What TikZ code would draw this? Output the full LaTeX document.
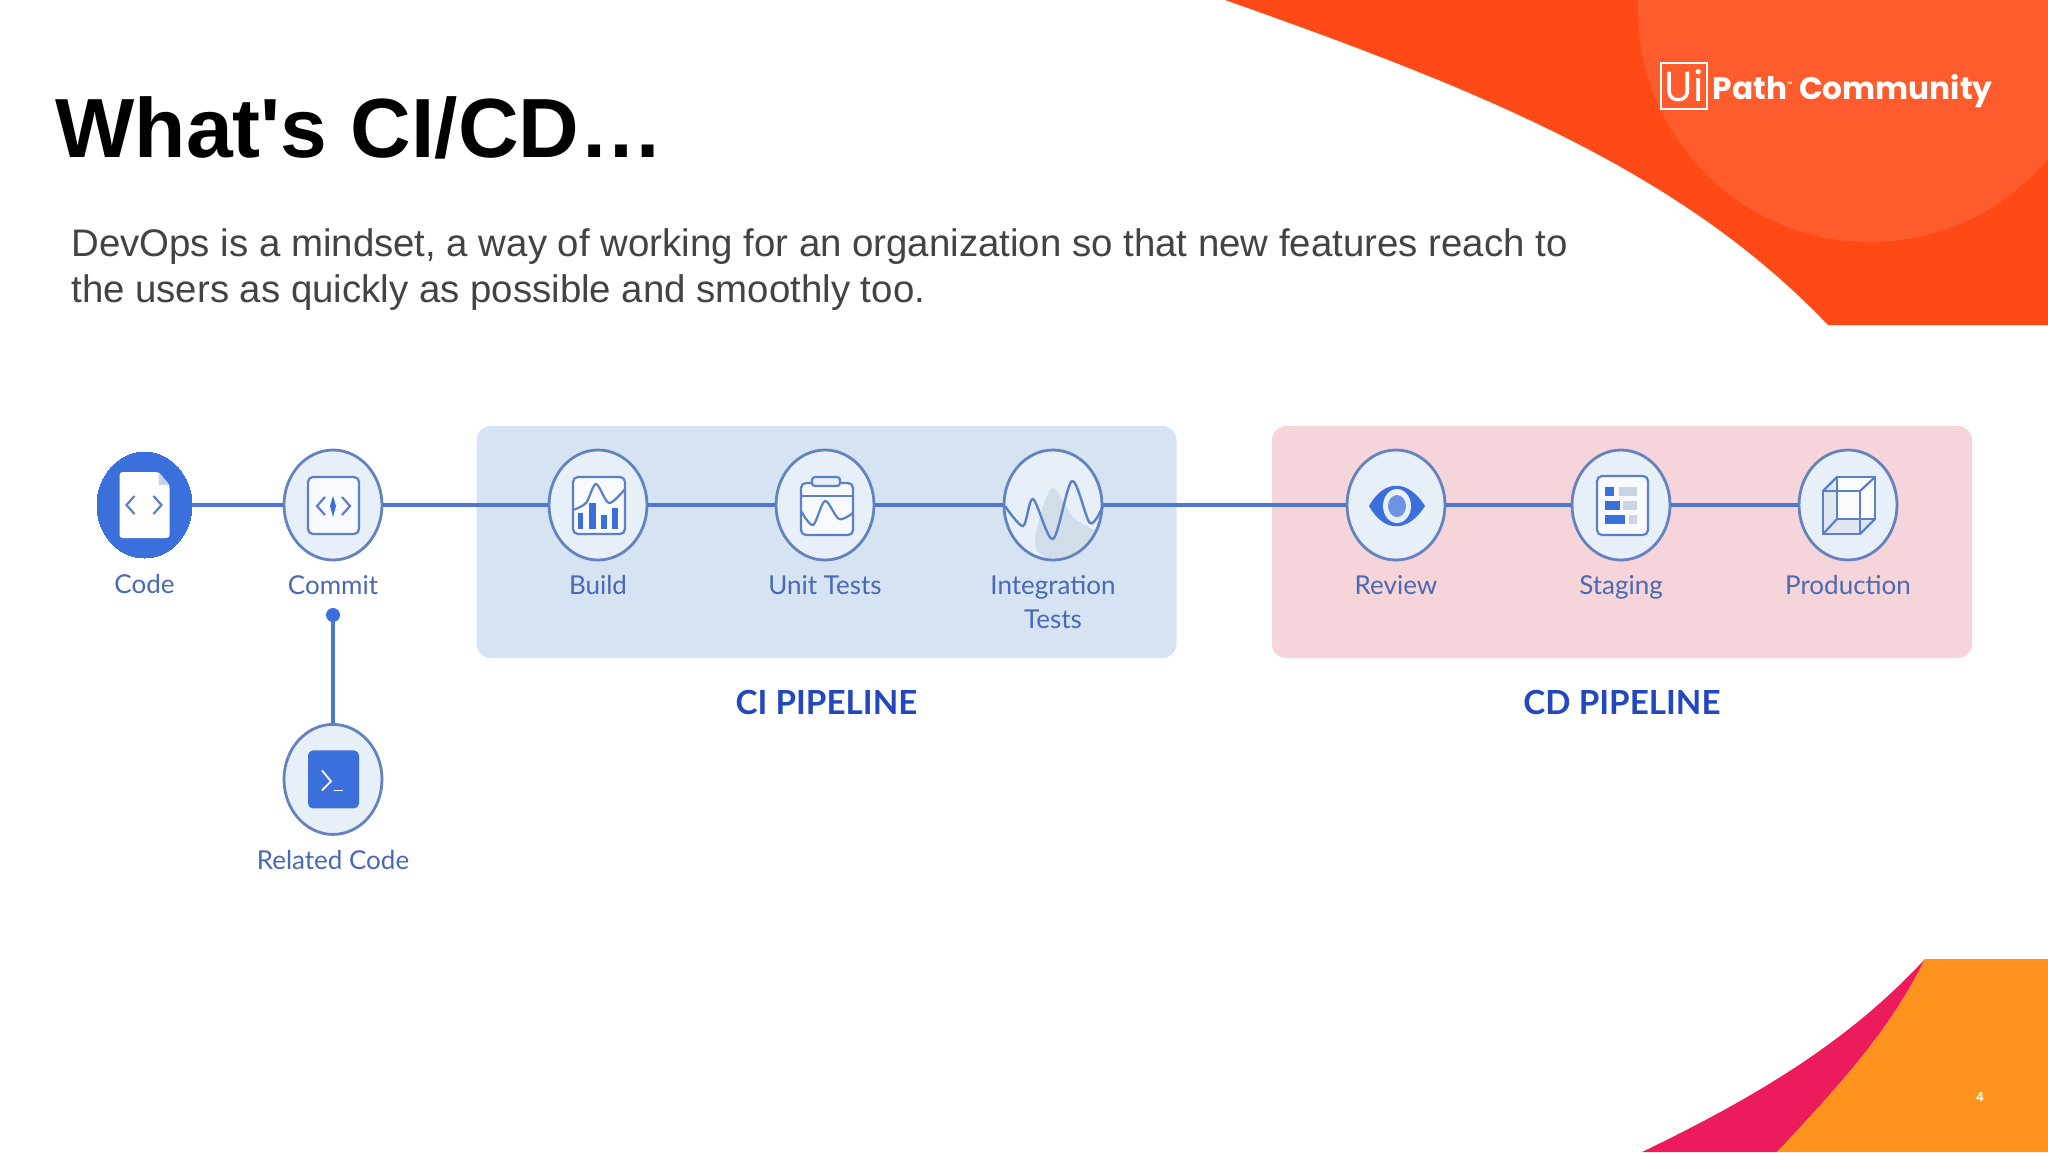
\documentclass[tikz,border=0pt]{standalone}
\usepackage{fontspec}
\setmainfont{Liberation Sans}
\newfontfamily\stepfont{Lato}
\newfontfamily\logofont{Poppins}
\usepackage{xcolor}
\usepackage{tikz}
\usetikzlibrary{calc,positioning,shapes.geometric}
\definecolor{flame}{HTML}{FF4A17}
\definecolor{flamelight}{HTML}{FF5C2E}
\definecolor{rosered}{HTML}{EC1C5C}
\definecolor{amberish}{HTML}{FF931E}
\definecolor{bodygray}{HTML}{434343}
\definecolor{cifill}{HTML}{D5E3F3}
\definecolor{cdfill}{HTML}{F6D5DA}
\definecolor{wireblue}{HTML}{4C78D4}
\definecolor{ringblue}{HTML}{6482BE}
\definecolor{ringfill}{HTML}{E7EFF8}
\definecolor{iconblue}{HTML}{3B6FDB}
\definecolor{iconline}{HTML}{5B7FCB}
\definecolor{labelblue}{HTML}{4A68B4}
\definecolor{pipeblue}{HTML}{2348BE}
\definecolor{softgray}{HTML}{C9D5E4}
\begin{document}
\begin{tikzpicture}[x=0.5pt,y=-0.5pt,
  ringnode/.style={ellipse,draw=ringblue,line width=1.4pt,fill=ringfill,inner sep=0pt,minimum width=49pt,minimum height=55pt},
  pipebox/.style={rounded corners=7pt,fill=#1,minimum height=116pt,inner sep=0pt},
  steplabel/.style={font=\stepfont\fontsize{13}{17}\selectfont,text=labelblue,inner sep=0pt,text height=9.5pt,text depth=3pt,align=center},
  pipetitle/.style={font=\stepfont\bfseries\fontsize{16.6}{20}\selectfont,text=pipeblue,inner sep=0pt},
  wire/.style={draw=wireblue,line width=1.6pt},
  iconsheet/.style={draw=iconline,line width=1.1pt,fill=white!70!ringfill,rounded corners=2.5pt},
  iconbar/.style={fill=iconblue,draw=none},
  iconsoft/.style={fill=softgray,draw=none}]
\useasboundingbox (0,0) rectangle (2048,1152);
\fill[white] (0,0) rectangle (2048,1152);
% corner shapes
\fill[flame] (1225,0) .. controls (1480,90) and (1680,170) .. (1828,325) -- (2048,325) -- (2048,0) -- cycle;
\begin{scope}
\clip (1225,0) rectangle (2048,325);
\fill[flamelight] (1870,10) circle[radius=116pt];
\end{scope}
\fill[rosered] (1925,959) .. controls (1850,1040) and (1760,1095) .. (1642,1152) -- (1777,1152) .. controls (1840,1085) and (1890,1030) .. (1925,959) -- cycle;
\fill[amberish] (1925,959) -- (2048,959) -- (2048,1152) -- (1777,1152) .. controls (1840,1085) and (1890,1030) .. (1925,959) -- cycle;
\node[text=white,font=\bfseries\fontsize{6.5}{8}\selectfont,inner sep=0pt] (pagenum) at (1980,1097) {4};
% logo
\node[draw=white,line width=1.4pt,text=white,font=\logofont\fontsize{21}{22}\selectfont,minimum width=23pt,minimum height=23pt,inner sep=0pt] (logobox) at (1684,86) {Ui};
\node[right=2pt of logobox,yshift=-2.5pt,text=white,font=\logofont\bfseries\fontsize{15.6}{20}\selectfont,inner sep=0pt] (logotext) {Path\raisebox{6.5pt}{\fontsize{3}{3}\selectfont ™} Community};
% heading
\node[anchor=base west,inner sep=0pt,font=\bfseries\fontsize{42}{50}\selectfont] (title) at (55,157) {What\textquotesingle s CI/CD…};
\node[anchor=base west,inner sep=0pt,text=bodygray,align=left,font=\fontsize{19.2}{23}\selectfont] (body) at (71,302) {DevOps is a mindset, a way of working for an organization so that new features reach to\\the users as quickly as possible and smoothly too.};
% pipeline panels
\node[pipebox=cifill,minimum width=350pt] (cibox) at (826.5,542) {};
\node[pipebox=cdfill,minimum width=350pt] (cdbox) at (1622,542) {};
\node[pipetitle,below=15.7pt of cibox] (cititle) {CI PIPELINE};
\node[pipetitle,below=15.7pt of cdbox] (cdtitle) {CD PIPELINE};
% steps
\node[ringnode,fill=iconblue,draw=iconblue,line width=0pt,minimum width=47.5pt,minimum height=53pt] (code) at (144.5,505) {};
\node[ringnode,right=45.3pt of code] (commit) {};
\node[ringnode,right=82.1pt of commit] (build) {};
\node[ringnode,right=63.1pt of build] (unit) {};
\node[ringnode,right=63.6pt of unit] (integ) {};
\node[ringnode,right=121.1pt of integ] (review) {};
\node[ringnode,right=62.1pt of review] (staging) {};
\node[ringnode,right=63.1pt of staging] (production) {};
\node[ringnode,below=80.8pt of commit] (related) {};
\node[steplabel,below=8pt of code] (codelabel) {Code};
\node[steplabel,below=7pt of commit] (commitlabel) {Commit};
\node[steplabel,below=7pt of build] (buildlabel) {Build};
\node[steplabel,below=7pt of unit] (unitlabel) {Unit Tests};
\node[steplabel,below=7pt of integ,text height=26.5pt] (integlabel) {Integration\\Tests};
\node[steplabel,below=7pt of review] (reviewlabel) {Review};
\node[steplabel,below=7pt of staging] (staginglabel) {Staging};
\node[steplabel,below=7pt of production] (productionlabel) {Production};
\node[steplabel,below=7pt of related] (relatedlabel) {Related Code};
\node[circle,fill=iconblue,inner sep=0pt,minimum size=7pt] (commitdot) at (333,615) {};
\draw[wire] (code) -- (commit);
\draw[wire] (commit) -- (build);
\draw[wire] (build) -- (unit);
\draw[wire] (unit) -- (integ);
\draw[wire] (integ) -- (review);
\draw[wire] (review) -- (staging);
\draw[wire] (staging) -- (production);
\draw[wire] (commitdot) -- (related);
% code icon
\begin{scope}[shift={(code.center)}]
\fill[white,rounded corners=1.5pt] (-25,-33) -- (14,-33) -- (25,-20) -- (25,33) -- (-25,33) -- cycle;
\fill[softgray] (14,-33) -- (25,-20) -- (14,-20) -- cycle;
\draw[iconline,line width=1.1pt] (-10,-9) -- (-18,0) -- (-10,9);
\draw[iconline,line width=1.1pt] (9,-9) -- (17,0) -- (9,9);
\end{scope}
% commit icon
\begin{scope}[shift={(commit.center)}]
\draw[iconsheet] (-25,-28) rectangle (26,29);
\draw[iconline,line width=1.1pt] (-8,-8) -- (-16,1) -- (-8,10);
\draw[iconline,line width=1.1pt] (9,-8) -- (17,1) -- (9,10);
\fill[iconblue] (0,-9) -- (3,1) -- (0,12) -- (-3,1) -- cycle;
\end{scope}
% build icon
\begin{scope}[shift={(build.center)}]
\draw[iconsheet] (-25,-28) rectangle (27,29);
\draw[iconline,line width=1.1pt] plot[smooth] coordinates {(-25,5) (-12,-2) (-2,-21) (11,-2) (27,-16)};
\fill[iconbar] (-20,8) rectangle (-15,24);
\fill[iconbar] (-9,-2) rectangle (-2,24);
\fill[iconbar] (3,10) rectangle (9,24);
\fill[iconbar] (14,3) rectangle (20,24);
\end{scope}
% unit test icon
\begin{scope}[shift={(unit.center)}]
\draw[iconsheet] (-24,-22) rectangle (28,30);
\draw[iconline,line width=1.1pt,fill=ringfill,rounded corners=1.5pt] (-13,-28) rectangle (15,-19);
\draw[iconline,line width=1.1pt] (-24,-9) -- (28,-9);
\draw[iconline,line width=1.1pt] plot[smooth] coordinates {(-24,6) (-12,20) (0,-4) (14,14) (28,8)};
\end{scope}
% integration icon
\begin{scope}[shift={(integ.center)}]
\begin{scope}
\clip (0,0) ellipse[x radius=47,y radius=53];
\fill[softgray!70!ringfill] plot[smooth cycle] coordinates {(-17,44) (-12,8) (-1,-17) (10,-4) (22,14) (43,30) (16,60)};
\end{scope}
\draw[iconline,line width=1.2pt] plot[smooth] coordinates {(-48,1) (-30,21) (-20,-6) (0,34) (19,-24) (37,18) (50,1)};
\end{scope}
% review icon
\begin{scope}[shift={(review.center)}]
\fill[iconblue] (-27,1) .. controls (-12,-26) and (12,-26) .. (29,1) .. controls (12,28) and (-12,28) .. (-27,1) -- cycle;
\fill[ringfill] (1,1) ellipse[x radius=14,y radius=17];
\fill[iconblue!75!white] (1,1) ellipse[x radius=9,y radius=11];
\end{scope}
% staging icon
\begin{scope}[shift={(staging.center)}]
\draw[iconsheet] (-24,-29) rectangle (27,30);
\fill[iconbar] (-16,-18) rectangle (-7,-9);
\fill[iconbar] (-16,-4) rectangle (-1,5);
\fill[iconbar] (-16,10) rectangle (4,19);
\fill[iconsoft] (-2,-18) rectangle (16,-9);
\fill[iconsoft] (2,-4) rectangle (16,5);
\fill[iconsoft] (8,10) rectangle (16,19);
\end{scope}
% production icon
\begin{scope}[shift={(production.center)}]
\fill[softgray!60!white] (-25,-14) -- (-11,-28) -- (-11,14) -- (-25,29) -- cycle;
\fill[softgray!60!white] (-25,29) -- (-11,14) -- (27,14) -- (12,29) -- cycle;
\fill[white!75!ringfill] (-11,-28) rectangle (27,14);
\draw[iconline,line width=1.1pt] (-25,-14) rectangle (12,29);
\draw[iconline,line width=1.1pt] (-11,-28) rectangle (27,14);
\draw[iconline,line width=1.1pt] (-25,-14) -- (-11,-28);
\draw[iconline,line width=1.1pt] (12,-14) -- (27,-28);
\draw[iconline,line width=1.1pt] (12,29) -- (27,14);
\draw[iconline,line width=1.1pt] (-25,29) -- (-11,14);
\end{scope}
% related code icon
\begin{scope}[shift={(related.center)}]
\fill[iconblue,rounded corners=2.5pt] (-25,-29) rectangle (26,29);
\draw[white,line width=0.9pt] (-11,-9) -- (-2,2) -- (-11,11);
\draw[white,line width=0.9pt] (1,11) -- (10,11);
\end{scope}
\end{tikzpicture}
\end{document}
